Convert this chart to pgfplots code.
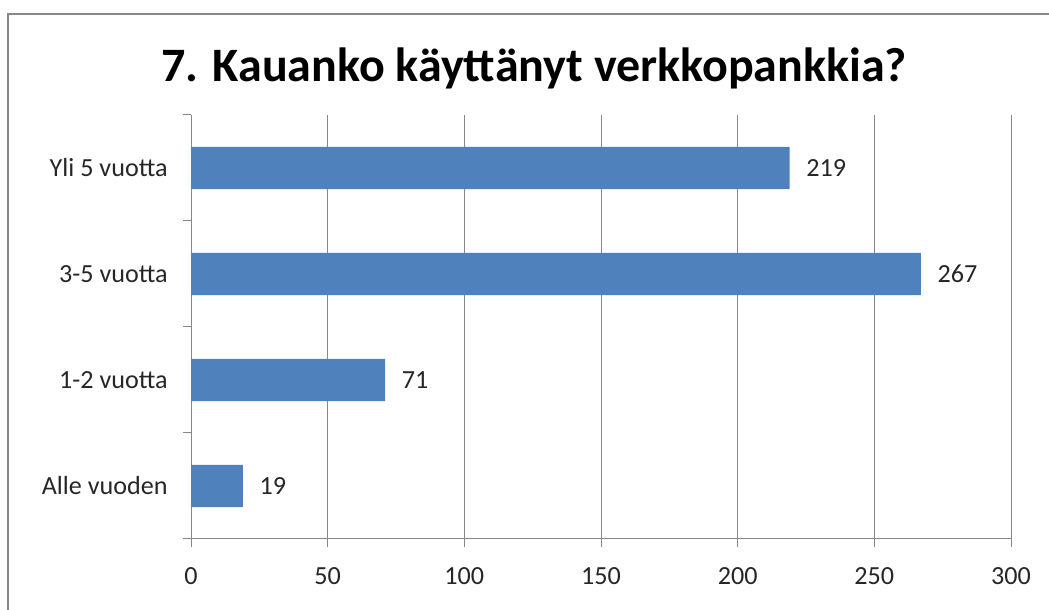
\documentclass[border=0pt]{standalone}
\usepackage{fontspec}
\setmainfont{Carlito}
\usepackage{pgfplots}
\pgfplotsset{compat=1.18}
\definecolor{barblue}{HTML}{4F81BD}
\definecolor{gridgray}{HTML}{878787}
\begin{document}
\begin{tikzpicture}
\path[use as bounding box] (0,0) rectangle (786.75pt,457.5pt);
\draw[color=gridgray, line width=1.5pt] (6pt,-5pt) -- (6pt,447pt) -- (800pt,447pt);
\node[font=\fontsize{36}{43}\selectfont\bfseries] at (400.5pt,406.5pt) {7. Kauanko käyttänyt verkkopankkia?};
\begin{axis}[
  at={(143.25pt,53.25pt)}, anchor=south west,
  scale only axis, width=615pt, height=318pt,
  xbar, bar width=0.4,
  xmin=0, xmax=300, ymin=-0.5, ymax=3.5,
  xtick={0,50,...,300},
  ytick={-0.5,0.5,1.5,2.5,3.5}, yticklabels={},
  extra y ticks={0,1,2,3},
  extra y tick labels={Alle vuoden,1-2 vuotta,3-5 vuotta,Yli 5 vuotta},
  extra y tick style={major tick length=0pt},
  axis x line*=bottom, axis y line*=left,
  axis line style={gridgray, line width=0.75pt, -},
  xmajorgrids, grid style={gridgray, line width=0.75pt},
  tick align=outside, major tick length=6pt,
  tick style={gridgray, line width=0.75pt},
  /pgf/number format/assume math mode=true,
  ticklabel style={font=\fontsize{19.6}{23}\selectfont, text=black!85},
  yticklabel style={xshift=-14pt},
  xticklabel style={yshift=-12pt},
  nodes near coords,
  every node near coord/.append style={font=\fontsize{19.6}{23}\selectfont, text=black!85, anchor=west, xshift=9pt},
]
\addplot[fill=barblue, draw=none] coordinates {(19,0) (71,1) (267,2) (219,3)};
\end{axis}
\end{tikzpicture}
\end{document}
